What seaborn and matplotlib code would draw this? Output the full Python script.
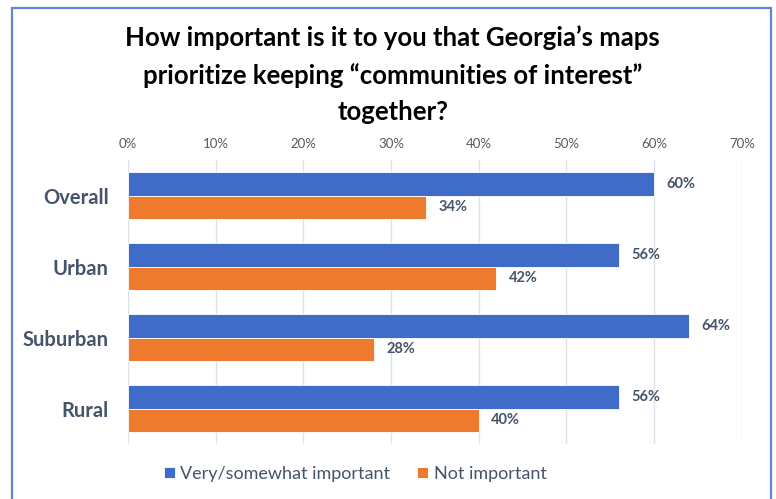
import pandas as pd
import matplotlib.pyplot as plt
import seaborn as sns
from matplotlib.patches import Rectangle

# data
groups = ['Overall', 'Urban', 'Suburban', 'Rural']
important = [60, 56, 64, 56]
not_important = [34, 42, 28, 40]
series = ['Very/somewhat important', 'Not important']
ticks = [0, 10, 20, 30, 40, 50, 60, 70]

frame = pd.DataFrame({
    'group': groups * 2,
    'value': important + not_important,
    'answer': [series[0]] * len(groups) + [series[1]] * len(groups),
})

sns.set_style('white')
plt.rcParams['font.family'] = ['Lato', 'DejaVu Sans']

text_col = '#44546A'
fig = plt.figure(figsize=(7.76, 4.99), dpi=100)
ax = fig.add_axes([0.165, 0.110, 0.791, 0.569])

sns.barplot(data=frame, y='group', x='value', hue='answer', orient='h',
            palette=['#3F6CC9', '#EE7A2E'], width=0.66, saturation=1,
            edgecolor='white', linewidth=0.6, ax=ax, zorder=3)

for cont in ax.containers:
    ax.bar_label(cont, labels=[f'{v:.0f}%' for v in cont.datavalues],
                 padding=9, fontsize=10.5, fontweight='bold', color=text_col)

ax.set_xlim(0, 70)
ax.set_ylim(3.5, -0.5)
ax.set_xticks(ticks)
ax.set_xticklabels([f'{t}%' for t in ticks], fontsize=9.5, color='#595959')
ax.xaxis.tick_top()
ax.tick_params(axis='x', length=0, pad=7)
ax.tick_params(axis='y', length=0, pad=14)
for lbl in ax.get_yticklabels():
    lbl.set_fontsize(14.5)
    lbl.set_fontweight('bold')
    lbl.set_color(text_col)
ax.grid(axis='x', color='#DCE1EA', linewidth=1, zorder=0)
ax.set_xlabel('')
ax.set_ylabel('')
sns.despine(ax=ax, left=True, bottom=True, top=True, right=True)

ax.legend(loc='center', bbox_to_anchor=(0.37, -0.105), ncol=2, frameon=False,
          fontsize=13, labelcolor=text_col, handlelength=0.6, handleheight=0.6,
          handletextpad=0.3, columnspacing=1.5)

fig.text(0.506, 0.85, 'How important is it to you that Georgia\u2019s maps\n'
         'prioritize keeping \u201ccommunities of interest\u201d\ntogether?',
         ha='center', va='center', fontsize=18.5, fontweight='bold',
         color='black', linespacing=1.6)

fig.patches.append(Rectangle((12 / 776, -0.05), 759 / 776, 1 - 8 / 499 + 0.05,
                             transform=fig.transFigure, fill=False,
                             edgecolor='#5B87D6', linewidth=1.6))

fig.savefig('out.png', dpi=100)
